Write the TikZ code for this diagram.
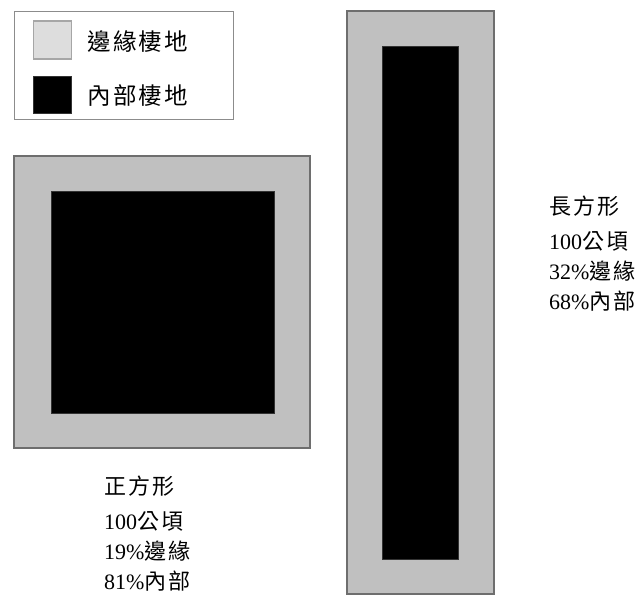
\documentclass[tikz,border=0pt]{standalone}
\usepackage{fontspec}
\setmainfont{Liberation Serif}
\newfontfamily\cjk[LetterSpace=10]{Noto Sans CJK TC}
\definecolor{edgegray}{RGB}{192,192,192}
\definecolor{lightsw}{RGB}{221,221,221}
\definecolor{framegray}{RGB}{110,110,110}
\definecolor{legendframe}{RGB}{140,140,140}
\tikzset{
  outerbox/.style={fill=edgegray, draw=framegray, line width=1.4pt},
  innerbox/.style={fill=black, draw=black!80, line width=0.6pt},
  lbl/.style={anchor=west, inner sep=0pt, font=\fontsize{22}{24}\selectfont},
  leg/.style={anchor=west, inner sep=0pt, font=\fontsize{23.5}{26}\selectfont},
}
\begin{document}
\begin{tikzpicture}[x=1pt,y=-1pt]
\useasboundingbox (0,0) rectangle (638,597);
% legend
\draw[legendframe, line width=1pt, fill=white] (14,11) rectangle (233,119);
\node[draw=gray!70, line width=1.4pt, fill=lightsw, minimum width=38pt, minimum height=38pt, inner sep=0pt] (swA) at (52.5,40) {};
\node[draw=black!80, line width=0.8pt, fill=black, minimum width=38pt, minimum height=37pt, inner sep=0pt] (swB) at (52.5,94.5) {};
\node[leg] (lgA) at (87,42) {\cjk 邊緣棲地};
\node[leg] (lgB) at (87,96) {\cjk 內部棲地};
% square
\draw[outerbox] (14,156) rectangle (310,448);
\draw[innerbox] (51,191) rectangle (274,413);
% tall rectangle
\draw[outerbox] (347,11) rectangle (494,594);
\draw[innerbox] (382,46) rectangle (458,559);
% right text
\node[lbl] (r1) at (549,206) {\cjk 長方形};
\node[lbl] (r2) at (549,241) {100{\cjk 公頃}};
\node[lbl] (r3) at (549,271) {32\%{\cjk 邊緣}};
\node[lbl] (r4) at (549,301) {68\%{\cjk 內部}};
% left text
\node[lbl] (l1) at (104,486) {\cjk 正方形};
\node[lbl] (l2) at (104,521) {100{\cjk 公頃}};
\node[lbl] (l3) at (104,551) {19\%{\cjk 邊緣}};
\node[lbl] (l4) at (104,581) {81\%{\cjk 內部}};
\end{tikzpicture}
\end{document}
